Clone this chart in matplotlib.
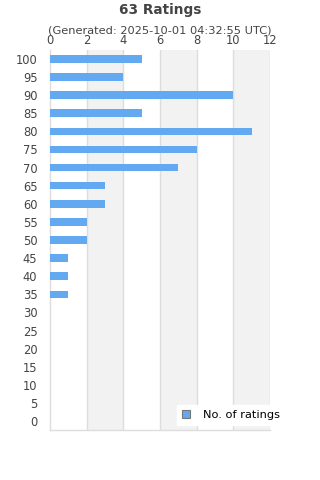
import numpy as np
import matplotlib
matplotlib.use("Agg")
import matplotlib.pyplot as plt
from matplotlib.patches import Patch

ratings = [100, 95, 90, 85, 80, 75, 70, 65, 60, 55, 50, 45, 40, 35, 30, 25, 20, 15, 10, 5, 0]
counts  = [5, 4, 10, 5, 11, 8, 7, 3, 3, 2, 2, 1, 1, 1, 0, 0, 0, 0, 0, 0, 0]
x_ticks = [0, 2, 4, 6, 8, 10, 12]

BAR_COLOUR = "#63a9f1"
TEXT_COLOUR = "#444444"

fig = plt.figure(figsize=(3.2, 4.8), dpi=100)
ax = fig.add_axes([0.156, 0.104, 0.688, 0.792])

y = np.arange(len(ratings))
ax.barh(y, counts, height=0.42, color=BAR_COLOUR, zorder=3)
ax.set_ylim(len(ratings) - 0.5, -0.5)
ax.set_xlim(0, 12)

# alternating bands
for lo in x_ticks[1::2]:
    ax.axvspan(lo, lo + 2, color="#f2f2f2", zorder=0, lw=0)
for xt in x_ticks[1:]:
    ax.axvline(xt, color="#dddddd", lw=1, zorder=1)

ax.set_yticks(y)
ax.set_yticklabels([str(r) for r in ratings])
ax.set_xticks(x_ticks)
ax.xaxis.tick_top()
ax.tick_params(axis="both", length=0, labelsize=8.3, colors=TEXT_COLOUR, pad=2)
ax.tick_params(axis="y", pad=9)
for side in ("top", "right"):
    ax.spines[side].set_visible(False)
for side in ("left", "bottom"):
    ax.spines[side].set_color("#dddddd")
    ax.spines[side].set_linewidth(1)

fig.text(0.5, 0.979, "63 Ratings", ha="center", va="center",
         fontsize=9.8, fontweight="bold", color=TEXT_COLOUR)
fig.text(0.5, 0.937, "(Generated: 2025-10-01 04:32:55 UTC)", ha="center",
         va="center", fontsize=8.2, color=TEXT_COLOUR)

handle = Patch(facecolor=BAR_COLOUR, edgecolor="#777777", lw=0.8)
leg = fig.legend([handle], ["No. of ratings"], loc="lower right",
                 bbox_to_anchor=(0.91, 0.102), fontsize=8.2, frameon=True,
                 fancybox=False, framealpha=1, edgecolor="white",
                 handlelength=0.7, handleheight=0.7, handletextpad=1.2,
                 borderpad=0.45)

fig.savefig("out.png", dpi=100)
